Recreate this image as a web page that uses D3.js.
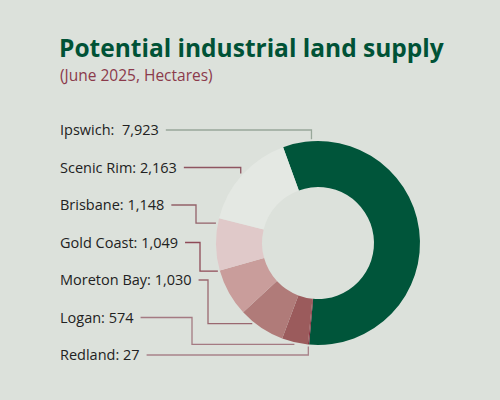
<!DOCTYPE html>
<html>
<head>
<meta charset="utf-8">
<script src="https://cdn.jsdelivr.net/npm/d3@7"></script>
<style>
  body { margin: 0; background: #dce1db; }
  svg { display: block; }
  text { font-family: "Open Sans", Lato, sans-serif; white-space: pre; }
</style>
</head>
<body>
<div id="chart"></div>
<script>
// data
var regions = ["Ipswich", "Redland", "Logan", "Moreton Bay", "Gold Coast", "Brisbane", "Scenic Rim"];
var hectares = [7923, 27, 574, 1030, 1049, 1148, 2163];
var colors = ["#00553a", "#8c3444", "#9b5b5c", "#b07b79", "#c99d9b", "#e0c9c9", "#e4e8e3"];
// labels top to bottom (index into regions)
var labelOrder = [0, 6, 5, 4, 3, 2, 1];
var labelText = ["Ipswich:  7,923", "Scenic Rim: 2,163", "Brisbane: 1,148", "Gold Coast: 1,049", "Moreton Bay: 1,030", "Logan: 574", "Redland: 27"];

const width = 500;
const height = 400;
const cx = 318, cy = 243;
const outerR = 102, innerR = 56;

const svg = d3.select("#chart").append("svg")
  .attr("width", width)
  .attr("height", height);

svg.append("rect").attr("width", width).attr("height", height).attr("fill", "#dce1db");

//Title
svg.append("text")
  .attr("x", 59).attr("y", 57)
  .attr("fill", "#005236")
  .style("font-size", "24.5px")
  .style("font-weight", "bold")
  .text("Potential industrial land supply");
svg.append("text")
  .attr("x", 60).attr("y", 81)
  .attr("fill", "#8b3a4b")
  .style("font-size", "15.5px")
  .text("(June 2025, Hectares)");

//Donut
const startA = -20 * Math.PI / 180;
const pie = d3.pie().sort(null).value(function(d) { return d; })
  .startAngle(startA).endAngle(startA + 2 * Math.PI);
const arcs = pie(hectares);
const arc = d3.arc().innerRadius(innerR).outerRadius(outerR);

const g = svg.append("g").attr("transform", "translate(" + cx + "," + cy + ")");
g.selectAll("path")
  .data(arcs).enter().append("path")
  .attr("d", arc)
  .attr("fill", function(d, i) { return colors[i]; });

//Labels + leader lines
// where along each slice the leader line lands, and x of the elbow (by region index)
var anchorT = [0.08, 0.5, 0.5, 0.7, 1.0, 0.9, 0.5];
var elbowX = [null, null, 192, 208, 200, 196, null];
var lineColors = ["#98a79a", "#a8828a", "#a47a82", "#9a6870", "#8e4a57", "#93616a", "#8e5560"];

labelOrder.forEach(function(idx, k) {
  var ly = 130 + k * 37.5;
  var t = svg.append("text")
    .attr("x", 60).attr("y", ly + 5)
    .attr("fill", "#222")
    .style("font-size", "14.5px")
    .text(labelText[k]);
  var x0 = 60 + t.node().getComputedTextLength() + 7;
  var a = arcs[idx];
  var ang = a.startAngle + (a.endAngle - a.startAngle) * anchorT[idx];
  var r = outerR + 2;
  var px = cx + r * Math.sin(ang);
  var py = cy - r * Math.cos(ang);
  var ex = elbowX[idx] == null ? px : elbowX[idx];
  var p = d3.path();
  p.moveTo(x0, ly);
  p.lineTo(ex, ly);
  p.lineTo(ex, py);
  p.lineTo(px, py);
  svg.append("path")
    .attr("d", p.toString())
    .attr("fill", "none")
    .attr("stroke", lineColors[idx])
    .attr("stroke-width", 1.3);
});
</script>
</body>
</html>
